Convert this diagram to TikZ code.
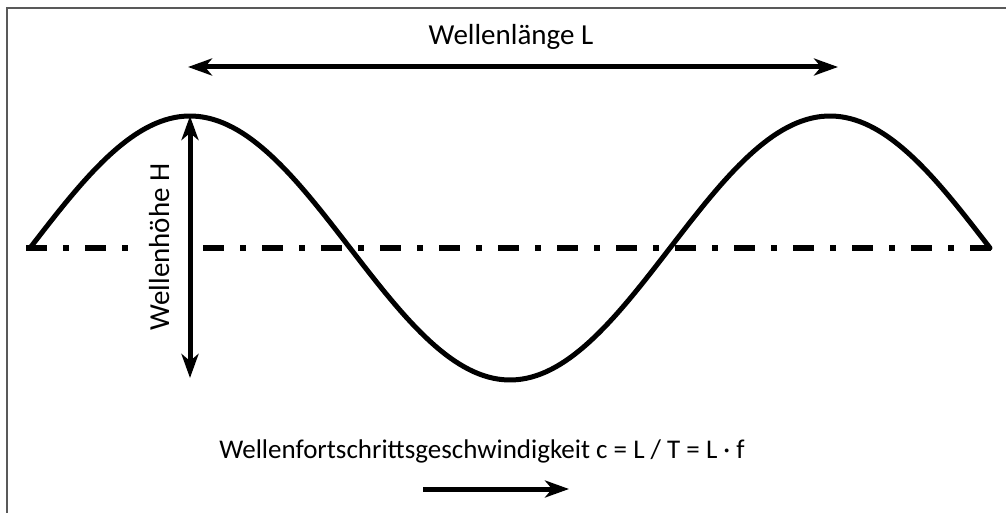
\documentclass[tikz,border=0pt]{standalone}
\usepackage{fontspec}
\setmainfont{Carlito}
\usetikzlibrary{arrows.meta}

\tikzset{
  wave/.style={line width=5pt, line cap=round, line join=round},
  meanline/.style={line width=6pt, dash pattern=on 21pt off 16pt on 6pt off 16pt},
  dimarrow/.style={line width=5pt, -{Stealth[length=24pt, width=17pt, inset=7pt]}},
  dimboth/.style={line width=5pt, {Stealth[length=24pt, width=17pt, inset=7pt]}-{Stealth[length=24pt, width=17pt, inset=7pt]}},
  lbl/.style={font=\fontsize{29}{33}\selectfont, inner sep=0pt, anchor=base},
  lblsmall/.style={font=\fontsize{27}{31}\selectfont, inner sep=0pt, anchor=base}
}

\begin{document}
\begin{tikzpicture}[x=1pt, y=-1pt]

% Parameters
\def\yzero{248}
\def\amp{132}
\def\xstart{30}
\def\degpx{0.5625} % 360 / wave length 640

\useasboundingbox (0,0) rectangle (1006,513);

% Frame
\draw[gray!70!black, line width=1.5pt] (7,513) -- (7,8) -- (1006,8);

% Key points
\coordinate (mL) at (26,\yzero);
\coordinate (mR) at (996,\yzero);
\coordinate (crestA) at (190,{\yzero-\amp});
\coordinate (crestB) at (830,{\yzero-\amp});
\coordinate (hBot) at (190,378);
\coordinate (lenL) at (188,67);
\coordinate (lenR) at (838,67);
\coordinate (cL) at (423,489);
\coordinate (cR) at (569,489);

% Mean water level
\draw[meanline] (mL) -- (mR);

% Wave
\draw[wave] plot[domain=\xstart:990, samples=200]
  (\x, {\yzero-\amp*sin((\x-\xstart)*\degpx)});

% Wave length
\draw[dimboth] (lenL) -- (lenR);
\node[lbl] (lenText) at (511,45) {Wellenlänge L};

% Wave height (label box hides the mean line)
\fill[white] (133,158) rectangle (199,338);
\node[lbl, rotate=90] (hText) at (169,247) {Wellenhöhe H};
\draw[dimboth] (crestA) -- (hBot);

% Celerity
\node[lblsmall] (cText) at (482,458) {Wellenfortschrittsgeschwindigkeit c = L / T = L · f};
\draw[dimarrow] (cL) -- (cR);

\end{tikzpicture}
\end{document}
